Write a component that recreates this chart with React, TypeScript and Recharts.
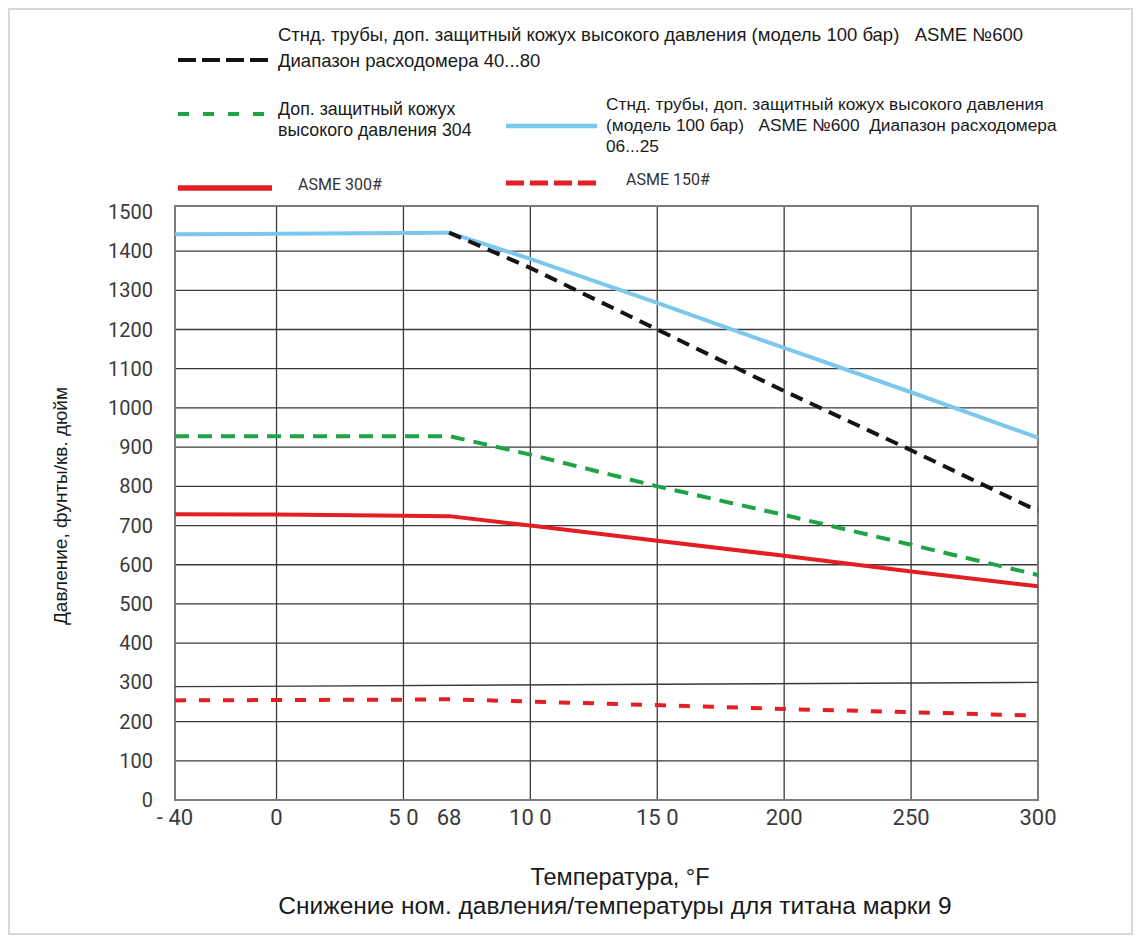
import React from 'react';
import { LineChart, Line, XAxis, YAxis, CartesianGrid, ReferenceLine, ReferenceArea } from 'recharts';

// ---- data ----
const temps = [-40, 0, 50, 68, 100, 150, 200, 250, 300];
const xTickLabels = ['- 40', '0', '5 0', '68', '10 0', '15 0', '200', '250', '300'];
const yTicks = [0, 100, 200, 300, 400, 500, 600, 700, 800, 900, 1000, 1100, 1200, 1300, 1400, 1500];

const blueVals = [1443, 1444, 1446, 1447, 1380, 1268, 1153, 1040, 924];
const blackVals = [null, null, null, 1447, 1357, 1200, 1043, 892, 737];
const greenVals = [928, 928, 928, 928, 881, 800, 727, 651, 574];
const redVals = [729, 728, 725, 724, 700, 661, 623, 583, 545];
const redDashVals = [254, 255, 256, 257, 251, 242, 232, 224, 215];

// the slanted "300" grid line of the original drawing
const skewLineX = [-40, 300];
const skewLineY = [289, 300];

const gridX = [-40, 0, 50, 100, 150, 200, 250, 300];
const gridY = [0, 100, 200, 400, 500, 600, 700, 800, 900, 1000, 1100, 1200, 1300, 1400];

const blackName = ['Стнд. трубы, доп. защитный кожух высокого давления (модель 100 бар)   ASME №600', 'Диапазон расходомера 40...80'];
const greenName = ['Доп. защитный кожух', 'высокого давления 304'];
const blueName = ['Стнд. трубы, доп. защитный кожух высокого давления', '(модель 100 бар)   ASME №600  Диапазон расходомера', '06...25'];
const redName = 'ASME 300#';
const redDashName = 'ASME 150#';

const xTitle = 'Температура, °F';
const subTitle = 'Снижение ном. давления/температуры для титана марки 9';
const yTitle = 'Давление, фунты/кв. дюйм';

const data = temps.map((t, i) => ({
  t,
  blue: blueVals[i],
  black: blackVals[i],
  green: greenVals[i],
  red: redVals[i],
  redDash: redDashVals[i],
}));

const C = {
  blue: '#7cc8ec',
  black: '#141414',
  green: '#1fa347',
  red: '#e31e24',
  grid: '#3a3a3a',
  frame: '#7c7c7c',
};

const ARIAL = '"Liberation Sans", Arial, sans-serif';
const DIN = 'Roboto, "Liberation Sans", sans-serif';

function Overlay() {
  const base = { fontFamily: ARIAL, fill: '#1a1a1a', whiteSpace: 'pre' as const };
  const blackTxt = { ...base, fontSize: 18.5 };
  const greenTxt = { ...base, fontSize: 17.8 };
  const blueTxt = { ...base, fontSize: 17.3 };
  return (
    <svg width={1139} height={941} style={{ position: 'absolute', left: 0, top: 0, pointerEvents: 'none' }}>
      {/* black dashed */}
      <text x={278} y={34} dominantBaseline="central" style={blackTxt}>{blackName[0]}</text>
      <line x1={178} x2={269} y1={60} y2={60} stroke={C.black} strokeWidth={4} strokeDasharray="18 6" />
      <text x={278} y={60} dominantBaseline="central" style={blackTxt}>{blackName[1]}</text>
      {/* green dashed */}
      <line x1={178} x2={265} y1={114} y2={114} stroke={C.green} strokeWidth={4} strokeDasharray="11 14" />
      <text x={278} y={109} dominantBaseline="central" style={greenTxt}>{greenName[0]}</text>
      <text x={278} y={130} dominantBaseline="central" style={greenTxt}>{greenName[1]}</text>
      {/* blue */}
      <line x1={506} x2={597} y1={126} y2={126} stroke={C.blue} strokeWidth={4.5} />
      <text x={606} y={104} dominantBaseline="central" style={blueTxt}>{blueName[0]}</text>
      <text x={606} y={125} dominantBaseline="central" style={blueTxt}>{blueName[1]}</text>
      <text x={606} y={146} dominantBaseline="central" style={blueTxt}>{blueName[2]}</text>
      {/* red solid */}
      <line x1={178} x2={272} y1={188} y2={188} stroke={C.red} strokeWidth={5.5} />
      <text x={298} y={184} dominantBaseline="central" style={{ fontFamily: DIN, fontSize: 16, fill: '#333' }}>{redName}</text>
      {/* red dashed */}
      <line x1={506} x2={597} y1={183} y2={183} stroke={C.red} strokeWidth={5} strokeDasharray="18 6" />
      <text x={626} y={179} dominantBaseline="central" style={{ fontFamily: DIN, fontSize: 16, fill: '#333' }}>{redDashName}</text>
      {/* titles */}
      <text x={620} y={877} textAnchor="middle" dominantBaseline="central" style={{ fontFamily: ARIAL, fontSize: 23.5, fill: '#1a1a1a' }}>{xTitle}</text>
      <text x={615} y={905} textAnchor="middle" dominantBaseline="central" style={{ fontFamily: ARIAL, fontSize: 24.5, fill: '#1a1a1a' }}>{subTitle}</text>
      <text x={60} y={506} transform="rotate(-90 60 506)" textAnchor="middle" dominantBaseline="central" style={{ fontFamily: ARIAL, fontSize: 19, fill: '#1a1a1a' }}>{yTitle}</text>
    </svg>
  );
}

export default function App() {
  return (
    <div style={{ position: 'absolute', left: 0, top: 0, width: 1139, height: 941, background: '#fff' }}>
      <div style={{ position: 'absolute', left: 8, top: 8, width: 1121, height: 923, border: '2px solid #d8d8d8' }} />
      <LineChart
        width={1139}
        height={941}
        data={data}
        margin={{ top: 206, right: 101, bottom: 111, left: 115 }}
        style={{ position: 'absolute', left: 0, top: 0 }}
      >
        <CartesianGrid
          stroke={C.grid}
          strokeWidth={1.3}
          horizontalValues={gridY}
          verticalValues={gridX}
        />
        <XAxis
          type="number"
          dataKey="t"
          domain={[-40, 300]}
          ticks={temps}
          interval={0}
          tickFormatter={(v: number) => xTickLabels[temps.indexOf(v)] ?? String(v)}
          axisLine={false}
          tickLine={false}
          tickMargin={3}
          height={30}
          tick={{ fontFamily: DIN, fontSize: 22, fill: '#3a3a3a' }}
        />
        <YAxis
          type="number"
          domain={[0, 1515]}
          ticks={yTicks}
          interval={0}
          axisLine={false}
          tickLine={false}
          tickMargin={16}
          width={60}
          tick={{ fontFamily: DIN, fontSize: 20, fill: '#3a3a3a' }}
        />
        <ReferenceLine
          segment={[{ x: skewLineX[0], y: skewLineY[0] }, { x: skewLineX[1], y: skewLineY[1] }]}
          stroke={C.grid}
          strokeWidth={1.3}
        />
        <ReferenceArea x1={-40} x2={300} y1={0} y2={1515} fill="none" stroke={C.frame} strokeWidth={2} />
        <Line dataKey="blue" stroke={C.blue} strokeWidth={4} dot={false} isAnimationActive={false} />
        <Line dataKey="black" stroke={C.black} strokeWidth={4} strokeDasharray="13 8" dot={false} isAnimationActive={false} />
        <Line dataKey="green" stroke={C.green} strokeWidth={4} strokeDasharray="14 9" dot={false} isAnimationActive={false} />
        <Line dataKey="red" stroke={C.red} strokeWidth={4} dot={false} isAnimationActive={false} />
        <Line dataKey="redDash" stroke={C.red} strokeWidth={4} strokeDasharray="11 13" dot={false} isAnimationActive={false} />
      </LineChart>
      <Overlay />
    </div>
  );
}
